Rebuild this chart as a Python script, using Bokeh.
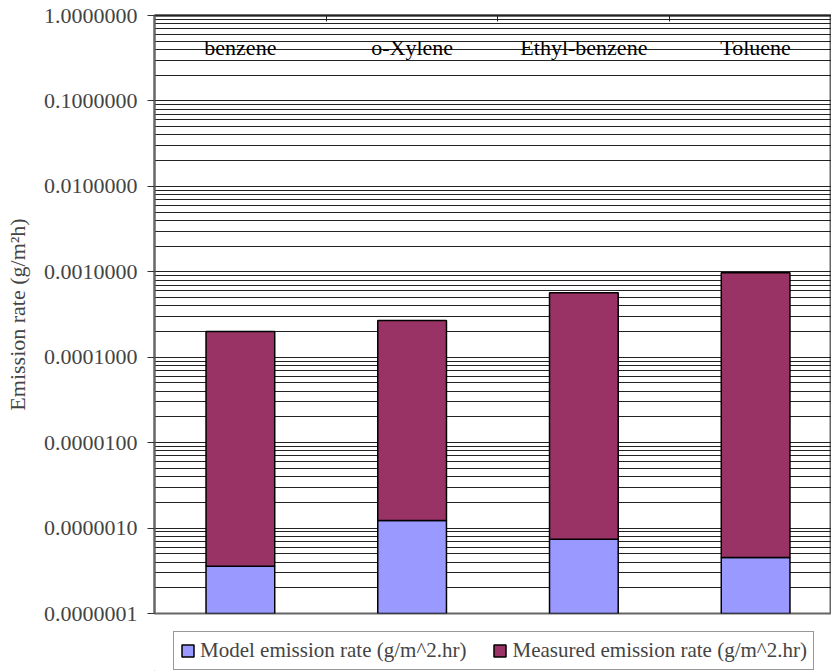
from bokeh.plotting import figure
from bokeh.layouts import column
from bokeh.models import (Range1d, LogAxis, LinearAxis, LogScale, FixedTicker, PrintfTickFormatter,
                          Legend, LegendItem, ColumnDataSource, Grid)
from bokeh.core.properties import value
from bokeh.embed import file_html
from bokeh.resources import INLINE

# Emission rates per compound (g/m^2.hr)
compounds = ["benzene", "o-Xylene", "Ethyl-benzene", "Toluene"]
model_rate = [3.58e-7, 1.23e-6, 7.41e-7, 4.53e-7]
measured_rate = [2.0e-4, 2.68e-4, 5.67e-4, 9.72e-4]
decade_ticks = [1e-7, 1e-6, 1e-5, 1e-4, 1e-3, 1e-2, 1e-1, 1.0]
series_labels = ["Model emission rate (g/m^2.hr)", "Measured emission rate (g/m^2.hr)"]

FONT = "Liberation Serif"
SIZE = "22px"
MODEL_COLOR = "#9999FF"
MEASURED_COLOR = "#993366"

xpos = [i + 0.5 for i in range(len(compounds))]
stack_top = [m + s for m, s in zip(model_rate, measured_rate)]
floor = [decade_ticks[0]] * len(compounds)

src = ColumnDataSource(dict(x=xpos, floor=floor, model=model_rate, top=stack_top, name=compounds))

minor = [k * d for d in decade_ticks[:-1] for k in range(2, 10)]

p = figure(width=831, height=625, output_backend="svg", toolbar_location=None,
           y_axis_type=None, x_axis_type=None,
           x_range=Range1d(0, 678 / 172), y_range=Range1d(1e-7, 1.0),
           min_border_left=154, min_border_right=0, min_border_top=15, min_border_bottom=12)
p.y_scale = LogScale()
p.background_fill_color = "white"
p.border_fill_color = "white"
p.outline_line_color = "#666666"
p.outline_line_width = 2

yax = LogAxis(ticker=FixedTicker(ticks=decade_ticks, minor_ticks=minor),
              formatter=PrintfTickFormatter(format="%.7f"))
yax.axis_label = "Emission rate (g/m²h)"
yax.axis_label_text_font = FONT
yax.axis_label_text_font_size = SIZE
yax.axis_label_text_font_style = "normal"
yax.axis_label_standoff = 11
yax.major_label_text_font = FONT
yax.major_label_text_font_size = SIZE
yax.major_label_standoff = 10
yax.major_tick_out = 7
yax.major_tick_in = 0
yax.minor_tick_out = 0
yax.minor_tick_in = 0
yax.axis_line_color = "#666666"
yax.axis_line_width = 2
yax.major_tick_line_color = "#333333"
p.add_layout(yax, "left")

# Category axis runs along the top, with dividers between compounds
top_ax = LinearAxis(ticker=FixedTicker(ticks=[1, 2, 3], minor_ticks=[]))
top_ax.major_tick_in = 6
top_ax.major_tick_out = 0
top_ax.minor_tick_in = 0
top_ax.minor_tick_out = 0
top_ax.major_label_overrides = {1: "", 2: "", 3: ""}
top_ax.major_label_standoff = 0
top_ax.axis_line_color = "#222222"
top_ax.axis_line_width = 2
top_ax.major_tick_line_color = "#222222"
p.add_layout(top_ax, "above")

# Horizontal lines at every decade and every intermediate value
grid = Grid(dimension=1, ticker=FixedTicker(ticks=decade_ticks, minor_ticks=minor),
            grid_line_color="#222222", grid_line_width=1,
            minor_grid_line_color="#222222", minor_grid_line_width=1)
p.add_layout(grid)

r_model = p.vbar(x="x", bottom="floor", top="model", width=0.4, source=src,
                 fill_color=MODEL_COLOR, line_color="black", line_width=1.5)
r_meas = p.vbar(x="x", bottom="model", top="top", width=0.4, source=src,
                fill_color=MEASURED_COLOR, line_color="black", line_width=1.5)

# Compound names just under the top axis
p.text(x="x", y=0.42, text="name", source=src, text_align="center", text_baseline="middle",
       text_font=value(FONT), text_font_size=SIZE, text_color="black")

# Legend strip under the chart; the swatch renderers sit outside its visible range
leg_fig = figure(width=831, height=46, output_backend="svg", toolbar_location=None,
                 x_axis_type=None, y_axis_type=None, x_range=Range1d(0, 1), y_range=Range1d(0, 1),
                 min_border=0)
leg_fig.outline_line_color = None
leg_fig.xgrid.grid_line_color = None
leg_fig.ygrid.grid_line_color = None
swatch_src = ColumnDataSource(dict(x=[-5.0], b=[-5.0], t=[-4.0]))
sw_model = leg_fig.vbar(x="x", bottom="b", top="t", width=0.1, source=swatch_src,
                        fill_color=MODEL_COLOR, line_color="black", line_width=1.5)
sw_meas = leg_fig.vbar(x="x", bottom="b", top="t", width=0.1, source=swatch_src,
                       fill_color=MEASURED_COLOR, line_color="black", line_width=1.5)

legend = Legend(items=[LegendItem(label=series_labels[0], renderers=[sw_model]),
                       LegendItem(label=series_labels[1], renderers=[sw_meas])],
                orientation="horizontal", location=(19, 1))
legend.label_text_font = FONT
legend.label_text_font_size = "21px"
legend.label_standoff = 5
legend.label_height = 21
legend.glyph_width = 15
legend.glyph_height = 15
legend.spacing = 26
legend.padding = 6
legend.margin = 0
legend.border_line_color = "#333333"
legend.border_line_width = 1
legend.background_fill_alpha = 1
leg_fig.add_layout(legend, "center")

layout = column(p, leg_fig, spacing=0)

open("out.html", "w").write(file_html(layout, INLINE))
